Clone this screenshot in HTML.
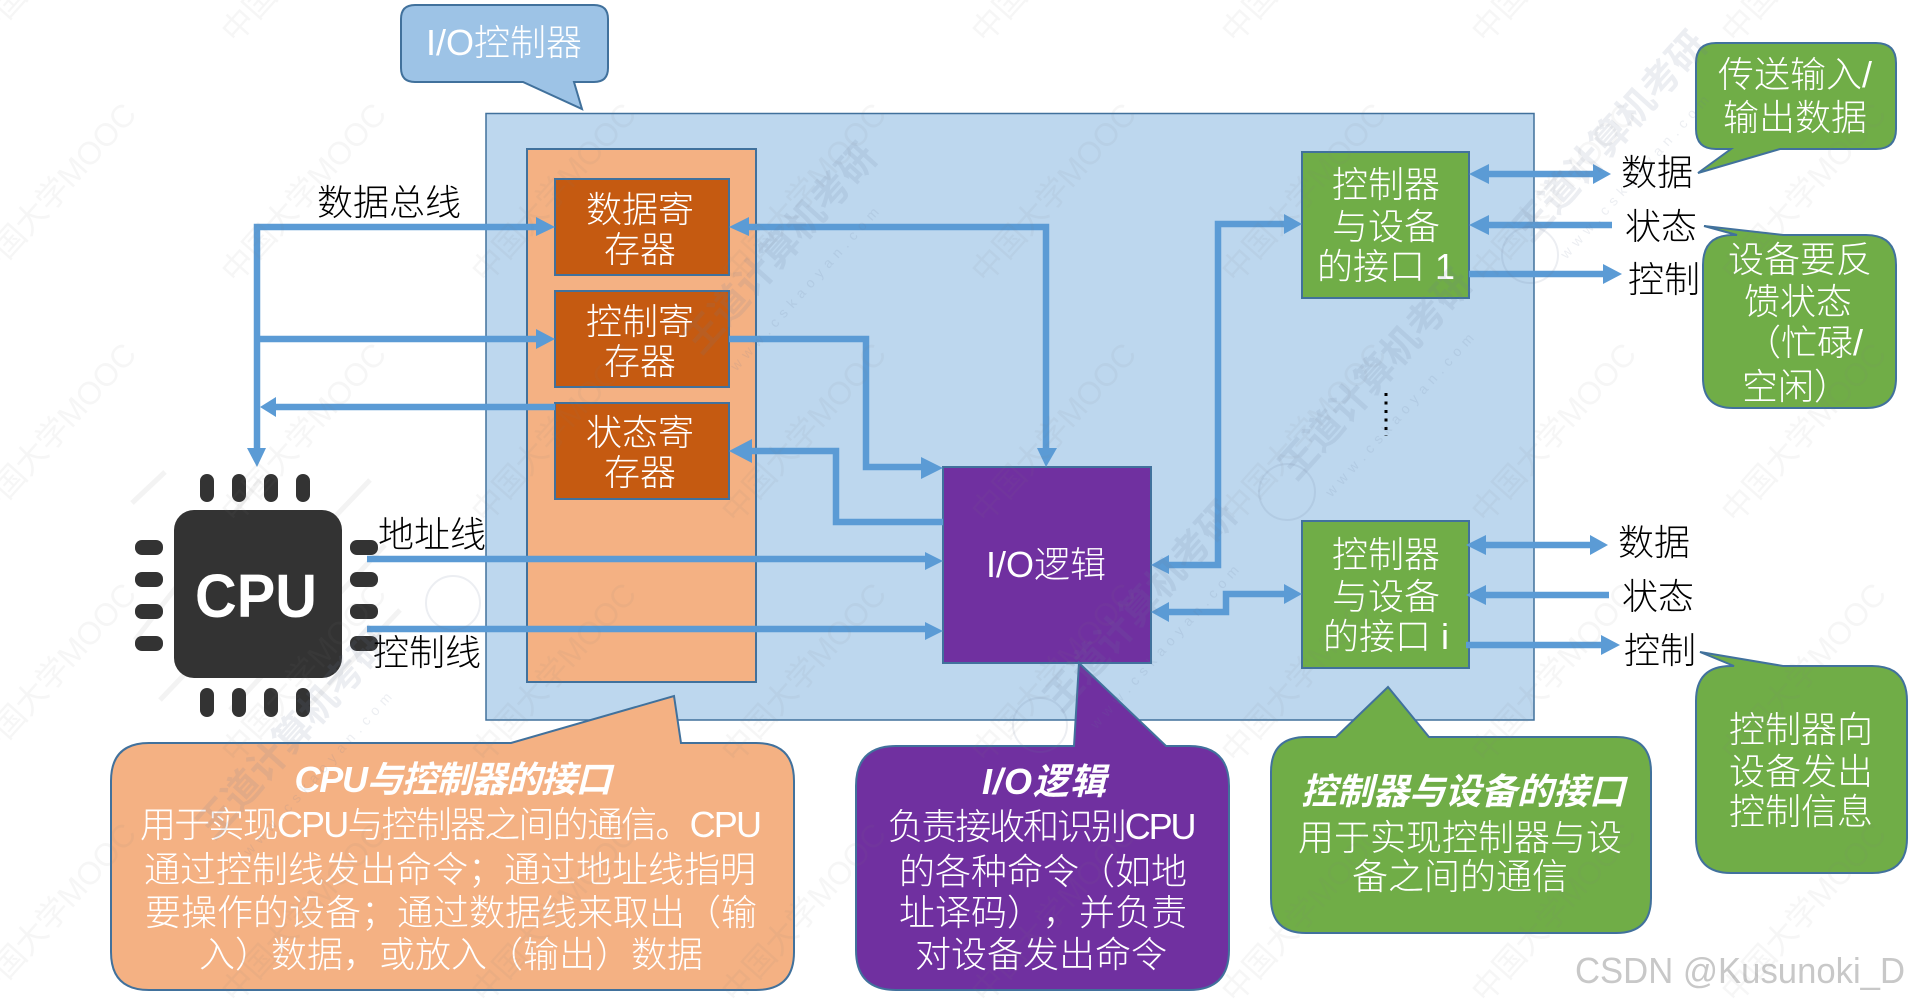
<!DOCTYPE html>
<html><head><meta charset="utf-8"><style>
html,body{margin:0;padding:0;background:#fff;width:1909px;height:1001px;overflow:hidden}
svg{display:block}
text{font-family:"Liberation Sans","Noto Sans CJK SC",sans-serif;font-size:36px;text-anchor:middle;text-spacing-trim:space-all;font-kerning:none}
.w{fill:#fff;font-weight:300}
.k{fill:#000;font-weight:300}
.i{fill:#fff;font-weight:700;font-style:italic}
.wm{fill:#808080;fill-opacity:.07;font-size:32px}
.wd{fill:#6a7f99;fill-opacity:.13;font-size:38px;font-weight:700}
.ws{fill:#6a7f99;fill-opacity:.13;font-size:14px;letter-spacing:6px}
.a{fill:none;stroke:#5b9bd5;stroke-width:6.500}
.h{fill:#5b9bd5}
</style></head><body>
<svg width="1909" height="1001" viewBox="0 0 1909 1001" xmlns="http://www.w3.org/2000/svg">
<rect width="1909" height="1001" fill="#fff"/>
<!-- CPU streaks -->
<g fill="none" stroke="#f3f3f3" stroke-width="5"><path d="M132 503L165 472"/><path d="M135 640L260 480"/><path d="M160 700L370 480"/><path d="M230 710L385 545"/><path d="M300 715L400 610"/></g>
<!-- main -->
<rect x="486" y="113.500" width="1048" height="606.500" fill="#bdd7ee" stroke="#41719c" stroke-width="1.500"/>
<rect x="527" y="149" width="229" height="533" fill="#f4b183" stroke="#41719c" stroke-width="2"/>
<g fill="#c55a11" stroke="#41719c" stroke-width="2">
<rect x="555" y="179" width="174" height="96"/>
<rect x="555" y="291" width="174" height="96"/>
<rect x="555" y="403" width="174" height="96"/>
</g>
<rect x="943" y="467" width="208" height="196" fill="#7030a0" stroke="#41719c" stroke-width="2"/>
<g fill="#70ad47" stroke="#41719c" stroke-width="2">
<rect x="1302" y="152" width="167" height="146"/>
<rect x="1302" y="521" width="167" height="147"/>
</g>
<!-- connectors -->
<path class="a" d="M257 448V227H538M257 339H538M555 407H275"/>
<path class="a" d="M748 227H1046V450"/>
<path class="a" d="M729 339H866V467H925"/>
<path class="a" d="M750 451H836V522H943"/>
<path class="a" d="M367 559H926M367 629H926"/>
<path class="a" d="M1285 224H1218V565H1168"/>
<path class="a" d="M1285 594H1226V612H1168"/>
<path class="a" d="M1487 174H1594M1487 225H1612M1469 274H1604"/>
<path class="a" d="M1484 545H1590M1484 595H1609M1466 645H1602"/>
<g class="h">
<polygon points="536,217 555,227 536,236"/><polygon points="536,329 555,339 536,349"/>
<polygon points="276,397 260,407 276,417"/><polygon points="247,448 266,448 257,467"/>
<polygon points="749,217 729,227 749,236"/><polygon points="1037,448 1057,448 1046,467"/>
<polygon points="921,457 943,468 921,479"/><polygon points="752,439 729,451 752,463"/>
<polygon points="925,552 943,561 925,570"/><polygon points="925,622 943,631 925,640"/>
<polygon points="1284,214 1302,224 1284,234"/><polygon points="1169,555 1151,565 1169,574"/>
<polygon points="1284,584 1302,594 1284,604"/><polygon points="1169,602 1151,612 1169,622"/>
<polygon points="1489,164 1469,174 1489,184"/><polygon points="1593,164 1611,174 1593,184"/>
<polygon points="1489,215 1469,225 1489,235"/><polygon points="1603,264 1622,274 1603,284"/>
<polygon points="1486,535 1466,545 1486,555"/><polygon points="1590,535 1608,545 1590,555"/>
<polygon points="1486,585 1466,595 1486,605"/><polygon points="1601,635 1620,645 1601,655"/>
</g>
<!-- CPU -->
<g fill="#333">
<rect x="174" y="510" width="168" height="168" rx="20"/>
<rect x="135" y="540" width="28" height="15" rx="7"/><rect x="135" y="572" width="28" height="15" rx="7"/><rect x="135" y="604" width="28" height="15" rx="7"/><rect x="135" y="636" width="28" height="15" rx="7"/>
<rect x="350" y="540" width="28" height="15" rx="7"/><rect x="350" y="572" width="28" height="15" rx="7"/><rect x="350" y="604" width="28" height="15" rx="7"/><rect x="350" y="636" width="28" height="15" rx="7"/>
<rect x="200" y="474" width="14" height="28" rx="7"/><rect x="232" y="474" width="14" height="28" rx="7"/><rect x="264" y="474" width="14" height="28" rx="7"/><rect x="296" y="474" width="14" height="28" rx="7"/>
<rect x="200" y="688" width="14" height="29" rx="7"/><rect x="232" y="688" width="14" height="29" rx="7"/><rect x="264" y="688" width="14" height="29" rx="7"/><rect x="296" y="688" width="14" height="29" rx="7"/>
</g>
<text x="256" y="617" fill="#fff" textLength="122" lengthAdjust="spacingAndGlyphs" style="font-size:61px;font-weight:700">CPU</text>
<!-- callouts -->
<g stroke="#41719c" stroke-width="2">
<path fill="#9dc3e6" d="M415 5H594Q608 5 608 19V68Q608 82 594 82H574L582 109L523 82H415Q401 82 401 68V19Q401 5 415 5Z"/>
<path fill="#f4b183" d="M149 743H511L674 696L681 743H756Q794 743 794 781V952Q794 990 756 990H149Q111 990 111 952V781Q111 743 149 743Z"/>
<path fill="#7030a0" d="M896 746H1074L1079 663L1166 746H1189Q1229 746 1229 786V950Q1229 990 1189 990H896Q856 990 856 950V786Q856 746 896 746Z"/>
<path fill="#70ad47" d="M1306 737H1336L1388 687L1429 737H1616Q1651 737 1651 772V898Q1651 933 1616 933H1306Q1271 933 1271 898V772Q1271 737 1306 737Z"/>
<path fill="#70ad47" d="M1732 666H1734L1700 652L1783 666H1872Q1907 666 1907 701V838Q1907 873 1872 873H1731Q1696 873 1696 838V701Q1696 666 1731 666Z"/>
<path fill="#70ad47" d="M1716 43H1876Q1896 43 1896 63V129Q1896 149 1876 149H1780L1698 173L1731 149H1716Q1696 149 1696 129V63Q1696 43 1716 43Z"/>
<path fill="#70ad47" d="M1733 235H1737L1704 226L1783 235H1866Q1896 235 1896 265V378Q1896 408 1866 408H1733Q1703 408 1703 378V265Q1703 235 1733 235Z"/>
</g>
<!-- dots -->
<path d="M1386 393V436" stroke="#000" stroke-width="3" stroke-dasharray="3 5.500" fill="none"/>
<!-- labels -->
<text class="k" x="389" y="215">数据总线</text>
<text class="k" x="432" y="547">地址线</text>
<text class="k" x="427" y="665">控制线</text>
<text class="w" x="504" y="55">I/O控制器</text>
<text class="w" x="640" y="222">数据寄</text><text class="w" x="640" y="262">存器</text>
<text class="w" x="640" y="334">控制寄</text><text class="w" x="640" y="374">存器</text>
<text class="w" x="640" y="445">状态寄</text><text class="w" x="640" y="485">存器</text>
<text class="w" x="1046" y="577">I/O逻辑</text>
<text class="w" x="1386" y="197">控制器</text><text class="w" x="1386" y="239">与设备</text><text class="w" x="1386" y="279">的接口 1</text>
<text class="w" x="1386" y="567">控制器</text><text class="w" x="1386" y="609">与设备</text><text class="w" x="1386" y="649">的接口 i</text>
<text class="k" x="1657" y="185">数据</text><text class="k" x="1661" y="239">状态</text><text class="k" x="1664" y="292">控制</text>
<text class="k" x="1654" y="555">数据</text><text class="k" x="1658" y="609">状态</text><text class="k" x="1660" y="663">控制</text>
<text class="w" x="1795" y="87">传送输入/</text><text class="w" x="1795" y="130">输出数据</text>
<text class="w" x="1800" y="272">设备要反</text><text class="w" x="1798" y="314">馈状态</text><text class="w" x="1804" y="355">（忙碌/</text><text class="w" x="1796" y="399">空闲）</text>
<text class="w" x="1801" y="742">控制器向</text><text class="w" x="1801" y="784">设备发出</text><text class="w" x="1801" y="824">控制信息</text>
<text class="i" x="453" y="792" textLength="317">CPU与控制器的接口</text>
<text class="w" x="451" y="837" textLength="622">用于实现CPU与控制器之间的通信。CPU</text>
<text class="w" x="450" y="882">通过控制线发出命令；通过地址线指明</text>
<text class="w" x="451" y="925">要操作的设备；通过数据线来取出（输</text>
<text class="w" x="451" y="967">入）数据，或放入（输出）数据</text>
<text class="i" x="1044" y="794" textLength="124">I/O逻辑</text>
<text class="w" x="1042" y="839" textLength="309">负责接收和识别CPU</text>
<text class="w" x="1043" y="884">的各种命令（如地</text>
<text class="w" x="1043" y="925">址译码），并负责</text>
<text class="w" x="1041" y="967">对设备发出命令</text>
<text class="i" x="1463" y="804">控制器与设备的接口</text>
<text class="w" x="1460" y="850">用于实现控制器与设</text>
<text class="w" x="1460" y="889">备之间的通信</text>
<text x="1740" y="983" fill="#c8c8c8" textLength="330" lengthAdjust="spacingAndGlyphs" style="font-size:36px">CSDN @Kusunoki_D</text>
<!-- watermarks -->
<g>
<text class="wm" transform="translate(62,-40) rotate(-48)">中国大学MOOC</text><text class="wm" transform="translate(312,-40) rotate(-48)">中国大学MOOC</text><text class="wm" transform="translate(1062,-40) rotate(-48)">中国大学MOOC</text><text class="wm" transform="translate(1312,-40) rotate(-48)">中国大学MOOC</text><text class="wm" transform="translate(1562,-40) rotate(-48)">中国大学MOOC</text><text class="wm" transform="translate(1812,-40) rotate(-48)">中国大学MOOC</text>
<text class="wm" transform="translate(62,200) rotate(-48)">中国大学MOOC</text><text class="wm" transform="translate(312,200) rotate(-48)">中国大学MOOC</text><text class="wm" transform="translate(562,200) rotate(-48)">中国大学MOOC</text><text class="wm" transform="translate(812,200) rotate(-48)">中国大学MOOC</text><text class="wm" transform="translate(1062,200) rotate(-48)">中国大学MOOC</text><text class="wm" transform="translate(1312,200) rotate(-48)">中国大学MOOC</text><text class="wm" transform="translate(1562,200) rotate(-48)">中国大学MOOC</text><text class="wm" transform="translate(1812,200) rotate(-48)">中国大学MOOC</text>
<text class="wm" transform="translate(62,440) rotate(-48)">中国大学MOOC</text><text class="wm" transform="translate(312,440) rotate(-48)">中国大学MOOC</text><text class="wm" transform="translate(562,440) rotate(-48)">中国大学MOOC</text><text class="wm" transform="translate(812,440) rotate(-48)">中国大学MOOC</text><text class="wm" transform="translate(1062,440) rotate(-48)">中国大学MOOC</text><text class="wm" transform="translate(1312,440) rotate(-48)">中国大学MOOC</text><text class="wm" transform="translate(1562,440) rotate(-48)">中国大学MOOC</text><text class="wm" transform="translate(1812,440) rotate(-48)">中国大学MOOC</text>
<text class="wm" transform="translate(62,680) rotate(-48)">中国大学MOOC</text><text class="wm" transform="translate(312,680) rotate(-48)">中国大学MOOC</text><text class="wm" transform="translate(562,680) rotate(-48)">中国大学MOOC</text><text class="wm" transform="translate(812,680) rotate(-48)">中国大学MOOC</text><text class="wm" transform="translate(1062,680) rotate(-48)">中国大学MOOC</text><text class="wm" transform="translate(1312,680) rotate(-48)">中国大学MOOC</text><text class="wm" transform="translate(1562,680) rotate(-48)">中国大学MOOC</text><text class="wm" transform="translate(1812,680) rotate(-48)">中国大学MOOC</text>
<text class="wm" transform="translate(62,920) rotate(-48)">中国大学MOOC</text><text class="wm" transform="translate(312,920) rotate(-48)">中国大学MOOC</text><text class="wm" transform="translate(562,920) rotate(-48)">中国大学MOOC</text><text class="wm" transform="translate(812,920) rotate(-48)">中国大学MOOC</text><text class="wm" transform="translate(1062,920) rotate(-48)">中国大学MOOC</text><text class="wm" transform="translate(1312,920) rotate(-48)">中国大学MOOC</text><text class="wm" transform="translate(1562,920) rotate(-48)">中国大学MOOC</text><text class="wm" transform="translate(1812,920) rotate(-48)">中国大学MOOC</text>
</g>
<g fill="none" stroke="#6a7f99" stroke-opacity=".13" stroke-width="2"><circle cx="1287" cy="492" r="28"/><circle cx="453" cy="603" r="27"/><circle cx="1530" cy="255" r="28"/><circle cx="1040" cy="725" r="27"/></g>
<text class="wd" transform="translate(790,257) rotate(-48)">王道计算机考研</text>
<text class="ws" transform="translate(810,290) rotate(-48)">www.cskaoyan.com</text>
<text class="wd" transform="translate(1385,383) rotate(-48)">王道计算机考研</text>
<text class="ws" transform="translate(1405,416) rotate(-48)">www.cskaoyan.com</text>
<text class="wd" transform="translate(1620,145) rotate(-48)">王道计算机考研</text>
<text class="ws" transform="translate(1640,178) rotate(-48)">www.cskaoyan.com</text>
<text class="wd" transform="translate(303,742) rotate(-48)">王道计算机考研</text>
<text class="ws" transform="translate(323,775) rotate(-48)">www.cskaoyan.com</text>
<text class="wd" transform="translate(1150,615) rotate(-48)">王道计算机考研</text>
<text class="ws" transform="translate(1170,648) rotate(-48)">www.cskaoyan.com</text>
</svg>
</body></html>
